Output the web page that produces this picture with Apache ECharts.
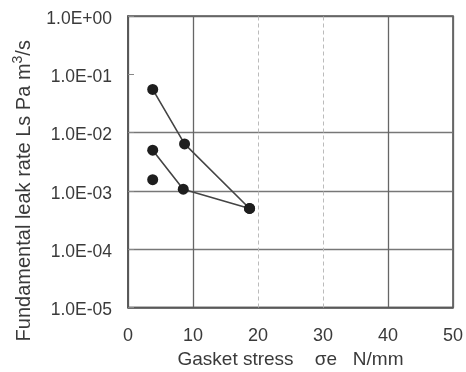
<!DOCTYPE html>
<html>
<head>
<meta charset="utf-8">
<style>
  html, body { margin: 0; padding: 0; background: #fff; }
  #chart { width: 466px; height: 372px; }
</style>
<script src="https://cdn.jsdelivr.net/npm/echarts@6/dist/echarts.min.js"></script>
</head>
<body>
<div id="chart"></div>
<script>
// Gasket stress (N/mm) vs fundamental leak rate (Pa m^3/s)
const stressA = [3.8, 8.7, 18.7];
const leakA   = [0.055, 0.0064, 0.0005];

const stressB = [3.8, 8.5, 18.7];
const leakB   = [0.005, 0.00107, 0.0005];

const stressC = [3.8];
const leakC   = [0.00156];

const xTicks = [0, 10, 20, 30, 40, 50];
const yTickLabels = ['1.0E-05', '1.0E-04', '1.0E-03', '1.0E-02', '1.0E-01', '1.0E+00'];

const pairs = (xs, ys) => xs.map((x, i) => [x, ys[i]]);

const FONT = '"Liberation Sans", Arial, sans-serif';
const TXT = '#3a3a3a';
const CLEAR = 'rgba(0,0,0,0)';

const chart = echarts.init(document.getElementById('chart'), null, { renderer: 'canvas' });

const lineStyle = { color: '#444', width: 1.6 };
const markStyle = { color: '#1e1e1e', opacity: 1 };

chart.setOption({
  animation: false,
  backgroundColor: '#fff',
  textStyle: { fontFamily: FONT, color: TXT },
  grid: {
    left: 128, right: 13, top: 16, bottom: 64.5,
    containLabel: false, outerBoundsMode: 'none',
    show: true, borderColor: '#555', borderWidth: 1.6, backgroundColor: CLEAR
  },
  xAxis: {
    type: 'value',
    min: xTicks[0], max: xTicks[xTicks.length - 1], interval: 10,
    name: 'Gasket stress    \u03c3e   N/mm',
    nameLocation: 'middle', nameGap: 41,
    nameTextStyle: { fontFamily: FONT, fontSize: 19, color: TXT },
    axisLine: { show: true, lineStyle: { color: '#555', width: 1.6 } },
    axisTick: { show: false },
    axisLabel: { fontFamily: FONT, fontSize: 18, color: TXT, margin: 20 },
    splitLine: {
      show: true,
      lineStyle: { color: ['#666', '#666', CLEAR, CLEAR, '#666', '#666'], width: 1.3 }
    }
  },
  yAxis: {
    type: 'log', logBase: 10, min: 1e-5, max: 1,
    name: 'Fundamental leak rate Ls Pa m{sup|3}/s',
    nameLocation: 'middle', nameGap: 91, nameRotate: 90,
    nameTextStyle: {
      fontFamily: FONT, fontSize: 20, color: TXT,
      padding: [0, 58, 0, 0],
      rich: {
        sup: { fontFamily: FONT, fontSize: 14, color: TXT, padding: [0, 0, 12, 0] }
      }
    },
    axisLine: { show: true, lineStyle: { color: '#555', width: 1.6 } },
    axisTick: { show: true, inside: true, length: 6, lineStyle: { color: '#888' } },
    axisLabel: {
      color: TXT, margin: 16,
      formatter: v => '{t|' + yTickLabels[Math.round(Math.log10(v)) + 5] + '}',
      rich: {
        t: { fontFamily: FONT, fontSize: 17.5, color: TXT, padding: [6, 0, 0, 0] }
      }
    },
    splitLine: {
      show: true,
      lineStyle: { color: ['#666', '#777', '#777', '#777', CLEAR, '#666'], width: 1.3 }
    }
  },
  series: [
    {
      type: 'line', data: pairs(stressA, leakA),
      symbol: 'circle', symbolSize: 11, itemStyle: markStyle, lineStyle
    },
    {
      type: 'line', data: pairs(stressB, leakB),
      symbol: 'circle', symbolSize: 11, itemStyle: markStyle, lineStyle
    },
    {
      type: 'scatter', data: pairs(stressC, leakC),
      symbol: 'circle', symbolSize: 11, itemStyle: markStyle,
      markLine: {
        silent: true, symbol: 'none', label: { show: false },
        lineStyle: { color: '#bbb', type: [4, 3], width: 1 },
        data: [{ xAxis: 20 }, { xAxis: 30 }]
      }
    }
  ]
});
</script>
</body>
</html>
